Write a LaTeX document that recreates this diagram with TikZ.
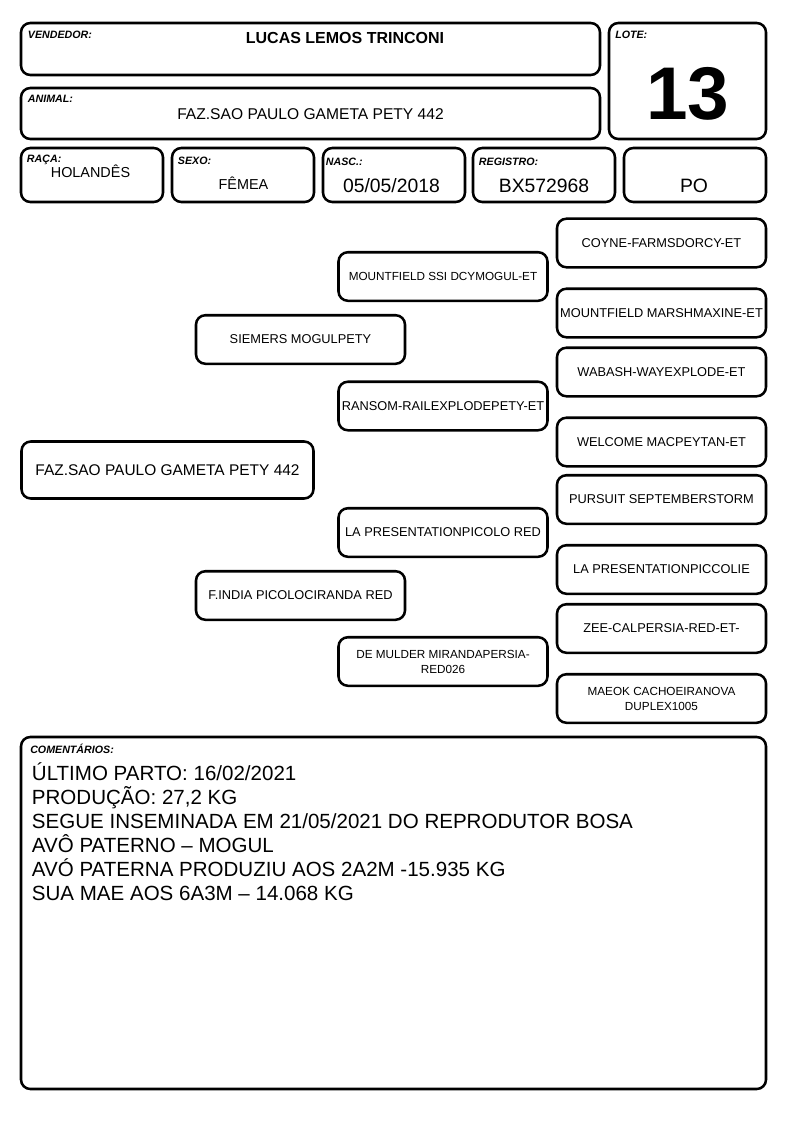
\documentclass[tikz,border=0pt]{standalone}
\usepackage{fontspec}
\setmainfont{Liberation Sans}
\usetikzlibrary{calc}

\tikzset{
	box/.style={draw, line width=1.9pt, rounded corners=7pt, inner sep=0pt, outer sep=0pt},
	fbox/.style={box, minimum width=106.5pt, minimum height=40.5pt},
	pbox/.style={box, minimum width=156.75pt, minimum height=36.4pt, align=center, font=\fontsize{9.6}{11.25}\selectfont},
	small/.style={font=\fontsize{8.8}{11.25}\selectfont},
	lbl/.style={anchor=base west, inner sep=0pt, font=\fontsize{8}{9}\selectfont\bfseries\itshape},
	val/.style={anchor=base, inner sep=0pt},
	ctext/.style={anchor=base west, inner sep=0pt, font=\fontsize{15.4}{18}\selectfont}
}

\begin{document}
\begin{tikzpicture}[x=0.75pt,y=-0.75pt]
	\useasboundingbox (0,0) rectangle (794,1123);
	% header fields
	\node[box, minimum width=434.25pt, minimum height=39pt] (vend) at (310.5,49) {};
	\node[box, minimum width=434.25pt, minimum height=38.25pt] (anim) at (310.5,113.5) {};
	\node[box, minimum width=117.75pt, minimum height=87pt] (lote) at (687.5,81) {};
	\node[fbox] (raca) at (92,175) {};
	\node[fbox] (sexo) at (243,175) {};
	\node[fbox] (nasc) at (394,175) {};
	\node[fbox] (reg) at (544,175) {};
	\node[fbox] (po) at (695,175) {};
	\node[lbl] (vendlbl) at ($(vend.north west)+(6.7,16)$) {VENDEDOR:};
	\node[lbl] (animlbl) at ($(anim.north west)+(6.7,15)$) {ANIMAL:};
	\node[lbl] (lotelbl) at ($(lote.north west)+(6,16)$) {LOTE:};
	\node[lbl] (racalbl) at ($(raca.north west)+(5.7,14.5)$) {RAÇA:};
	\node[lbl] (sexolbl) at ($(sexo.north west)+(5.7,17)$) {SEXO:};
	\node[lbl] (nasclbl) at ($(nasc.north west)+(2.7,17.5)$) {NASC.:};
	\node[lbl] (reglbl) at ($(reg.north west)+(5.7,17.5)$) {REGISTRO:};
	\node[val, font=\fontsize{12}{14}\selectfont\bfseries] (vendval) at (345,43.3) {LUCAS LEMOS TRINCONI};
	\node[val, font=\fontsize{11.7}{14}\selectfont] (animval) at (310.5,119.3) {FAZ.SAO PAULO GAMETA PETY 442};
	\node[val, font=\fontsize{56}{60}\selectfont\bfseries] (loteval) at (688,119.3) {13};
	\node[val, font=\fontsize{10.8}{13}\selectfont] (racaval) at (90.5,177.7) {HOLANDÊS};
	\node[val, font=\fontsize{10.8}{13}\selectfont] (sexoval) at (243.5,189.3) {FÊMEA};
	\node[val, font=\fontsize{14.5}{17}\selectfont] (nascval) at (391.5,192.7) {05/05/2018};
	\node[val, font=\fontsize{14.5}{17}\selectfont] (regval) at (544,192.7) {BX572968};
	\node[val, font=\fontsize{14.5}{17}\selectfont] (poval) at (694,192.7) {PO};
	% pedigree
	\node[box, minimum width=219pt, minimum height=42.75pt, font=\fontsize{11.6}{14}\selectfont] (animal) at (167.5,470) {FAZ.SAO PAULO GAMETA PETY 442};
	\node[pbox] (pai) at (300.5,339.5) {SIEMERS MOGULPETY};
	\node[pbox] (mae) at (300.5,595.5) {F.INDIA PICOLOCIRANDA RED};
	\node[pbox, small] (avopp) at (443,276.5) {MOUNTFIELD SSI DCYMOGUL-ET};
	\node[pbox] (avopm) at (443,406) {RANSOM-RAILEXPLODEPETY-ET};
	\node[pbox] (avomp) at (443,532.5) {LA PRESENTATIONPICOLO RED};
	\node[pbox, small] (avomm) at (443,661.5) {DE MULDER MIRANDAPERSIA-\\RED026};
	\node[pbox] (bis1) at (661.5,243) {COYNE-FARMSDORCY-ET};
	\node[pbox] (bis2) at (661.5,313) {MOUNTFIELD MARSHMAXINE-ET};
	\node[pbox] (bis3) at (661.5,372) {WABASH-WAYEXPLODE-ET};
	\node[pbox] (bis4) at (661.5,442) {WELCOME MACPEYTAN-ET};
	\node[pbox] (bis5) at (661.5,499.5) {PURSUIT SEPTEMBERSTORM};
	\node[pbox] (bis6) at (661.5,569.5) {LA PRESENTATIONPICCOLIE};
	\node[pbox] (bis7) at (661.5,628.5) {ZEE-CALPERSIA-RED-ET-};
	\node[pbox, small] (bis8) at (661.5,698.5) {MAEOK CACHOEIRANOVA\\DUPLEX1005};
	% comments
	\node[box, minimum width=558.75pt, minimum height=264pt] (coment) at (393.5,913) {};
	\node[lbl] (comentlbl) at ($(coment.north west)+(9,16.3)$) {COMENTÁRIOS:};
	\node[ctext] (c1) at (31.7,780) {ÚLTIMO PARTO: 16/02/2021};
	\node[ctext] (c2) at (31.7,804) {PRODUÇÃO: 27,2 KG};
	\node[ctext] (c3) at (31.7,828) {SEGUE INSEMINADA EM 21/05/2021 DO REPRODUTOR BOSA};
	\node[ctext] (c4) at (31.7,852) {AVÔ PATERNO – MOGUL};
	\node[ctext] (c5) at (31.7,876) {AVÓ PATERNA PRODUZIU AOS 2A2M -15.935 KG};
	\node[ctext] (c6) at (31.7,900) {SUA MAE AOS 6A3M – 14.068 KG};
\end{tikzpicture}
\end{document}
